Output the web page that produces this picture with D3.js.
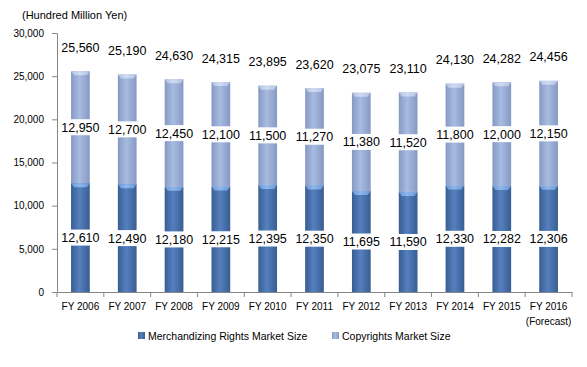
<!DOCTYPE html>
<html><head><meta charset="utf-8">
<script src="https://cdn.jsdelivr.net/npm/d3@7"></script>
<style>body{margin:0;background:#fff;}svg{display:block;font-family:"Liberation Sans",Arial,sans-serif;}</style>
</head><body>
<svg id="c" width="587" height="367"></svg>
<script>
const years = ["FY 2006","FY 2007","FY 2008","FY 2009","FY 2010","FY 2011","FY 2012","FY 2013","FY 2014","FY 2015","FY 2016"];
const merchandizing = [12610,12490,12180,12215,12395,12350,11695,11590,12330,12282,12306];
const copyrights = [12950,12700,12450,12100,11500,11270,11380,11520,11800,12000,12150];
const totals = [25560,25190,24630,24315,23895,23620,23075,23110,24130,24282,24456];
const yTicks = [0,5000,10000,15000,20000,25000,30000];
const seriesNames = ["Merchandizing Rights Market Size","Copyrights Market Size"];
const unitLabel = "(Hundred Million Yen)";

const svg = d3.select("#c");
const m = {l:57, r:15, t:33, b:75};
const W = 587, H = 367;
const x = d3.scaleBand().domain(years).range([m.l, 572]).paddingInner(0.6).paddingOuter(0.3);
const xb = d3.scaleBand().domain(years).range([m.l, 572]);
const y = d3.scaleLinear().domain([0,30000]).range([292, 33]);
const fmt = d3.format(",");

const defs = svg.append("defs");
function grad(id, edge, mid){
  const g = defs.append("linearGradient").attr("id",id).attr("x1","0").attr("x2","1").attr("y1","0").attr("y2","0");
  g.append("stop").attr("offset","0%").attr("stop-color",edge);
  g.append("stop").attr("offset","45%").attr("stop-color",mid);
  g.append("stop").attr("offset","100%").attr("stop-color",edge);
}
grad("gm","#385d92","#5580bf");
grad("gc","#8599c4","#a8bbe0");
grad("gmt","#6a97d6","#8cb8ec");
grad("gct","#b2c2e2","#cfdbf1");

// unit label
svg.append("text").attr("x",22).attr("y",19).attr("font-size",11).attr("fill","#000").text(unitLabel);

// y axis
const ya = svg.append("g").attr("transform",`translate(${m.l},0)`)
  .call(d3.axisLeft(y).tickValues(yTicks).tickFormat(fmt).tickSize(5).tickSizeOuter(0));
ya.select(".domain").attr("stroke","#868686");
ya.selectAll(".tick line").attr("stroke","#868686");
ya.selectAll(".tick text").attr("font-size",10).attr("fill","#000").attr("font-family","Liberation Sans, Arial, sans-serif").attr("x",-13);

// x axis
const xa = svg.append("g").attr("transform","translate(0,292)")
  .call(d3.axisBottom(xb).tickSize(0).tickSizeOuter(0));
xa.select(".domain").attr("stroke","#868686");
xa.selectAll(".tick text").attr("font-size",10).attr("fill","#000").attr("font-family","Liberation Sans, Arial, sans-serif").attr("dy","0").attr("y",18);
// boundary ticks
const bounds = years.map(d=>xb(d)).concat([xb(years[years.length-1])+xb.bandwidth()]);
svg.append("g").selectAll("line").data(bounds).join("line")
  .attr("x1",d=>d).attr("x2",d=>d).attr("y1",292).attr("y2",297).attr("stroke","#868686");
svg.append("text").attr("x",xb(years[10])+xb.bandwidth()/2).attr("y",325).attr("text-anchor","middle")
  .attr("font-size",10).text("(Forecast)");

const bw = x.bandwidth();
const g = svg.append("g");
years.forEach((yr,i)=>{
  const x0 = x(yr);
  const mTop = y(merchandizing[i]), tTop = y(totals[i]);
  g.append("rect").attr("x",x0).attr("y",mTop).attr("width",bw).attr("height",y(0)-mTop).attr("fill","url(#gm)");
  g.append("rect").attr("x",x0).attr("y",tTop).attr("width",bw).attr("height",mTop-tTop).attr("fill","url(#gc)");
  // bevel tops
  g.append("path").attr("d",`M${x0},${mTop}L${x0+bw},${mTop}L${x0+bw-3},${mTop+4}L${x0+3},${mTop+4}Z`).attr("fill","url(#gmt)");
  g.append("path").attr("d",`M${x0},${tTop}L${x0+bw},${tTop}L${x0+bw-3},${tTop+4}L${x0+3},${tTop+4}Z`).attr("fill","url(#gct)");
  const cx = x0+bw/2;
  // labels with white background
  const lab = (val, yc) => {
    const s = fmt(val);
    const w = s.length*6.6+4;
    g.append("rect").attr("x",cx-w/2).attr("y",yc-8).attr("width",w).attr("height",16).attr("fill","#fff");
    g.append("text").attr("x",cx).attr("y",yc+4.5).attr("text-anchor","middle").attr("font-size",12.5).attr("fill","#000").text(s);
  };
  lab(merchandizing[i], (y(0)+mTop)/2);
  lab(copyrights[i], (mTop+tTop)/2);
  g.append("text").attr("x",cx).attr("y",tTop-24+4.5).attr("text-anchor","middle").attr("font-size",12.5).attr("fill","#000").text(fmt(totals[i]));
});

// legend
const lg = svg.append("g");
const lx = [138, 332];
seriesNames.forEach((n,i)=>{
  lg.append("rect").attr("x",lx[i]).attr("y",332).attr("width",7).attr("height",7).attr("fill",i===0?"url(#gm)":"url(#gc)");
  lg.append("text").attr("x",lx[i]+10).attr("y",339.5).attr("font-size",10.5).attr("fill","#000").text(n);
});
</script>
</body></html>
